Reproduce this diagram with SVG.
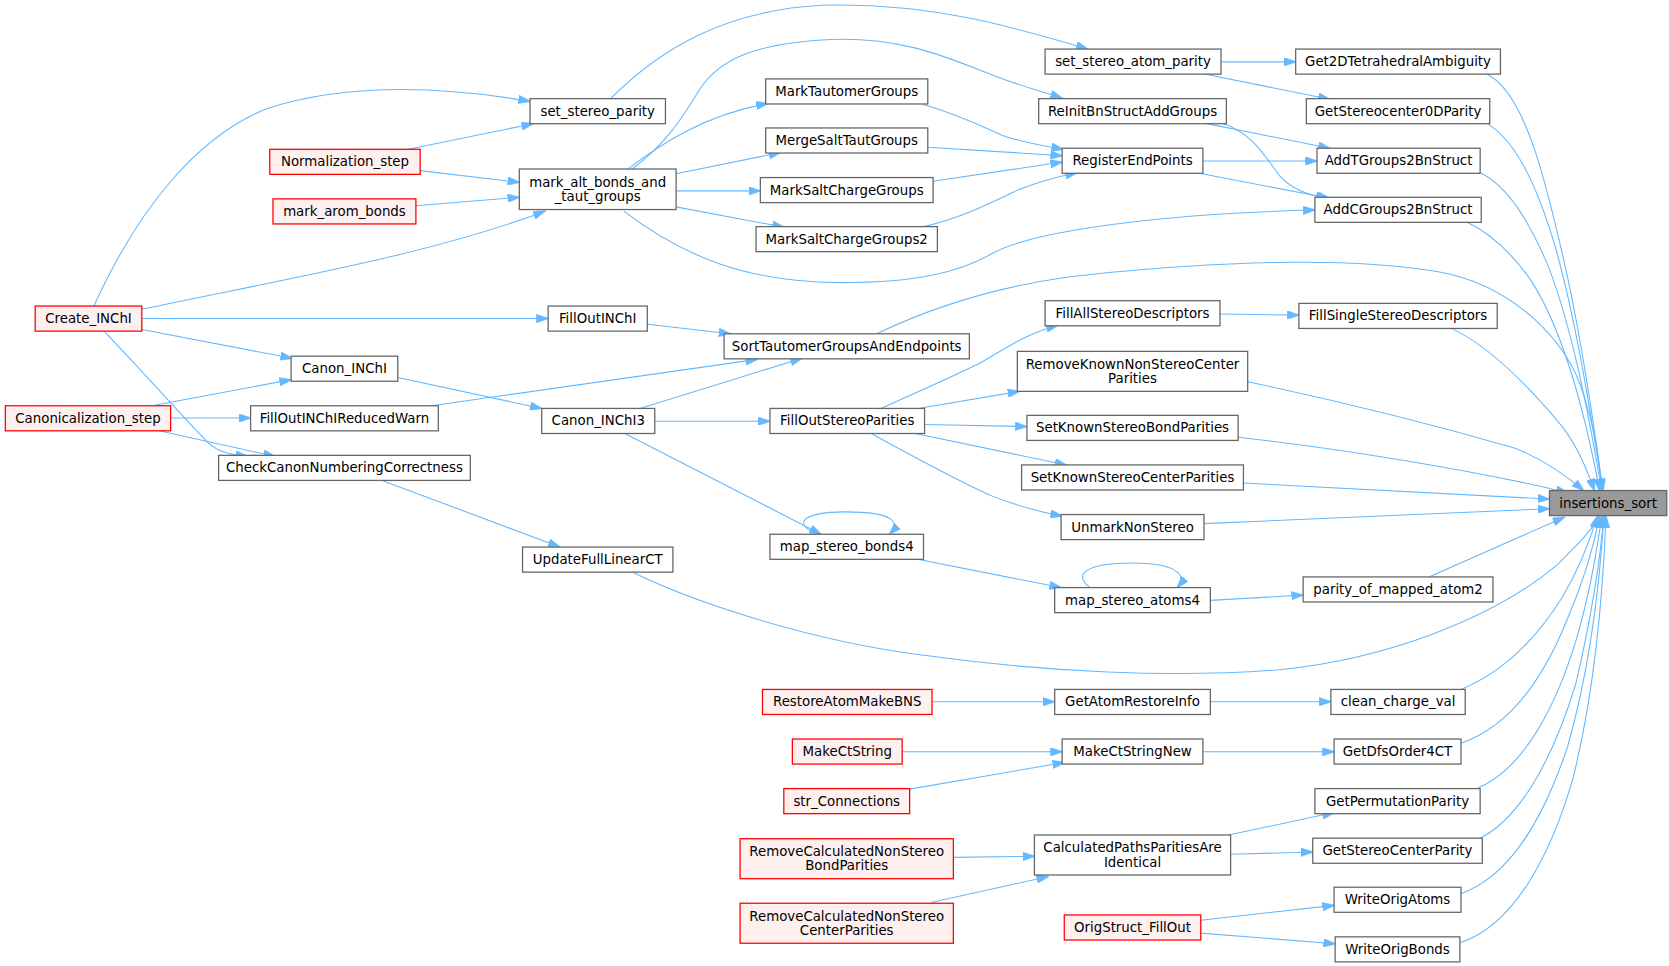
<svg xmlns="http://www.w3.org/2000/svg" width="1669" height="966" viewBox="0 0 1669 966">
<style>
.n rect{fill:#ffffff;stroke:#666666;stroke-width:1.2}
.r rect{fill:#fff0f0;stroke:#ff0000;stroke-width:1.2}
.g rect{fill:#999999;stroke:#666666;stroke-width:1.2}
text{font-family:"DejaVu Sans","Liberation Sans",sans-serif;font-size:12.5px;fill:#000000;text-anchor:middle}
.e path{fill:none;stroke:#63b8ff;stroke-width:1;marker-end:url(#ah)}
</style>
<defs>
<marker id="ah" viewBox="0 0 12 8" refX="11" refY="4" markerWidth="12" markerHeight="8" markerUnits="userSpaceOnUse" orient="auto">
<path d="M0,0 L12,4 L0,8 z" fill="#63b8ff" stroke="#63b8ff" stroke-width="0.5"/>
</marker>
</defs>
<rect x="0" y="0" width="1669" height="966" fill="#ffffff"/>
<g transform="scale(1.0664)">
<g id="connectors" class="e">
<path d="M88,287 C130,195 185,128 250,102 C330,76 420,82 497,95"/>
<path d="M383,140 L500,116"/>
<path d="M394,160 L487,171"/>
<path d="M390,193 L487,185"/>
<path d="M133,290 C250,265 400,240 511,198"/>
<path d="M133,298.7 L514,298.7"/>
<path d="M133,309 L274,336"/>
<path d="M98,311 C140,355 175,395 195,415 C205,424 215,426 232,428"/>
<path d="M145,380 L273,356"/>
<path d="M160,392 L235,392"/>
<path d="M145,403 L258,428"/>
<path d="M373,354 L508,383"/>
<path d="M408,380 L710,337"/>
<path d="M357,450 L525,513"/>
<path d="M600,383 L752,336"/>
<path d="M614,395 L722,395"/>
<path d="M585,406 L770,501"/>
<path d="M607,304 L685,313"/>
<path d="M573,92 C620,45 680,10 770,5 C870,2 950,25 1020,46"/>
<path d="M592,159 C625,135 640,110 656,84 C675,55 710,40 780,37 C850,35 890,55 930,70 C955,80 975,85 996,92"/>
<path d="M588,159 C620,135 660,108 720,97"/>
<path d="M634,163 L732,143"/>
<path d="M634,179 L713,179"/>
<path d="M634,194 L735,213"/>
<path d="M585,198 C640,240 700,265 790,265 C860,265 900,255 930,238 C970,215 1100,200 1233,197"/>
<path d="M866,98 C900,108 920,118 940,127 C960,134 975,136 997,140"/>
<path d="M870,138 L996,146"/>
<path d="M875,170 L996,152"/>
<path d="M864,213 C900,205 930,190 955,178 C975,170 990,166 1010,162"/>
<path d="M822,313 C870,290 930,270 1000,260 C1100,248 1250,238 1350,255 C1420,268 1470,320 1485,370 C1495,400 1500,430 1502,460"/>
<path d="M1145,58 L1215,58"/>
<path d="M1127,69 L1247,93"/>
<path d="M1127,115 L1247,139"/>
<path d="M1145,115 C1175,125 1185,145 1200,165 C1212,178 1225,182 1245,186"/>
<path d="M1128,151 L1235,151"/>
<path d="M1127,163 L1247,186"/>
<path d="M1393,69 C1430,85 1450,170 1470,260 C1485,330 1495,400 1503,460"/>
<path d="M1393,115 C1420,130 1440,170 1458,230 C1478,300 1492,390 1503,460"/>
<path d="M1388,162 C1415,175 1435,210 1452,250 C1475,310 1490,390 1502,460"/>
<path d="M1375,208 C1400,220 1420,240 1437,265 C1465,310 1485,380 1500,460"/>
<path d="M1359,307 C1400,325 1440,370 1465,400 C1480,420 1488,440 1495,460"/>
<path d="M1170,358 C1250,375 1350,400 1420,420 C1450,432 1470,447 1485,460"/>
<path d="M1161,410 C1250,420 1380,440 1470,462"/>
<path d="M1166,453 L1453,468"/>
<path d="M1129,491 L1453,477"/>
<path d="M1340,541 L1467,485"/>
<path d="M592,536 C640,560 750,600 870,615 C980,630 1100,636 1200,628 C1300,618 1400,580 1460,530 C1480,510 1495,495 1500,483"/>
<path d="M1371,646 C1410,630 1440,600 1465,560 C1480,535 1490,510 1498,484"/>
<path d="M1370,697 C1420,680 1450,630 1470,580 C1485,545 1495,510 1500,484"/>
<path d="M1386,739 C1430,720 1460,660 1478,600 C1490,560 1497,520 1502,484"/>
<path d="M1388,786 C1430,765 1460,700 1478,640 C1492,580 1500,530 1504,484"/>
<path d="M1370,838 C1420,820 1450,760 1470,700 C1490,630 1500,550 1504,484"/>
<path d="M1369,884 C1420,868 1455,800 1475,730 C1495,650 1503,560 1506,484"/>
<path d="M826,383 C860,368 900,350 920,340 C945,325 965,312 992,305"/>
<path d="M861,383 L956,367"/>
<path d="M867,398 L963,400"/>
<path d="M856,406 L1000,436"/>
<path d="M816,406 C860,430 900,452 930,465 C955,475 975,480 996,484"/>
<path d="M1144,294.5 L1218,295.5"/>
<path d="M770,501 C745,495 745,480 794,480 C838,480 845,490 834,501"/>
<path d="M858,524 L995,551"/>
<path d="M1022,551 C1005,538 1020,528 1062,528 C1100,528 1115,538 1104,551"/>
<path d="M1135,563 L1222,558"/>
<path d="M874,658 L989,658"/>
<path d="M1135,658 L1248,658"/>
<path d="M846,705 L996,705"/>
<path d="M853,740 L998,715"/>
<path d="M1128,705 L1251,705"/>
<path d="M894,804 L970,803"/>
<path d="M874,846 L983,822"/>
<path d="M1152,783 L1251,762"/>
<path d="M1154,801 L1231,799"/>
<path d="M1126,863 L1251,849"/>
<path d="M1126,875 L1252,885"/>
</g>
<g id="node-Create_INChI" class="r"><rect x="33" y="287" width="100" height="23.5"/><text x="83" y="303">Create_INChI</text></g>
<g id="node-Canonicalization_step" class="r"><rect x="5" y="380.5" width="155" height="23.5"/><text x="82.5" y="396.5">Canonicalization_step</text></g>
<g id="node-Normalization_step" class="r"><rect x="253" y="140" width="141" height="23.5"/><text x="323.5" y="156">Normalization_step</text></g>
<g id="node-mark_arom_bonds" class="r"><rect x="256" y="186.5" width="134" height="23.5"/><text x="323" y="202.5">mark_arom_bonds</text></g>
<g id="node-Canon_INChI" class="n"><rect x="273" y="334" width="100" height="23.5"/><text x="323" y="350">Canon_INChI</text></g>
<g id="node-FillOutINChIReducedWarn" class="n"><rect x="235" y="380.5" width="176" height="23.5"/><text x="323" y="396.5">FillOutINChIReducedWarn</text></g>
<g id="node-CheckCanonNumberingCorrectness" class="n"><rect x="205" y="427" width="236" height="23.5"/><text x="323" y="443">CheckCanonNumberingCorrectness</text></g>
<g id="node-set_stereo_parity" class="n"><rect x="497" y="92.5" width="127" height="23.5"/><text x="560.5" y="108.5">set_stereo_parity</text></g>
<g id="node-mark_alt_bonds_and_taut_groups" class="n"><rect x="487" y="158.5" width="147" height="38"/><text x="560.5" y="175">mark_alt_bonds_and</text><text x="560.5" y="188.5">_taut_groups</text></g>
<g id="node-FillOutINChI" class="n"><rect x="514" y="287" width="93" height="23.5"/><text x="560.5" y="303">FillOutINChI</text></g>
<g id="node-Canon_INChI3" class="n"><rect x="508" y="383" width="106" height="23.5"/><text x="561" y="399">Canon_INChI3</text></g>
<g id="node-UpdateFullLinearCT" class="n"><rect x="490" y="513" width="141" height="23.5"/><text x="560.5" y="529">UpdateFullLinearCT</text></g>
<g id="node-MarkTautomerGroups" class="n"><rect x="718" y="74" width="152" height="23.5"/><text x="794" y="90">MarkTautomerGroups</text></g>
<g id="node-MergeSaltTautGroups" class="n"><rect x="718" y="120" width="152" height="23.5"/><text x="794" y="136">MergeSaltTautGroups</text></g>
<g id="node-MarkSaltChargeGroups" class="n"><rect x="713" y="166.5" width="162" height="23.5"/><text x="794" y="182.5">MarkSaltChargeGroups</text></g>
<g id="node-MarkSaltChargeGroups2" class="n"><rect x="709" y="212.5" width="170" height="23.5"/><text x="794" y="228.5">MarkSaltChargeGroups2</text></g>
<g id="node-SortTautomerGroupsAndEndpoints" class="n"><rect x="679" y="313" width="230" height="23.5"/><text x="794" y="329">SortTautomerGroupsAndEndpoints</text></g>
<g id="node-FillOutStereoParities" class="n"><rect x="722" y="383" width="145" height="23.5"/><text x="794.5" y="399">FillOutStereoParities</text></g>
<g id="node-map_stereo_bonds4" class="n"><rect x="722" y="501" width="144" height="23.5"/><text x="794" y="517">map_stereo_bonds4</text></g>
<g id="node-RestoreAtomMakeBNS" class="r"><rect x="715" y="646.5" width="159" height="23.5"/><text x="794.5" y="662.5">RestoreAtomMakeBNS</text></g>
<g id="node-MakeCtString" class="r"><rect x="743" y="693" width="103" height="23.5"/><text x="794.5" y="709">MakeCtString</text></g>
<g id="node-str_Connections" class="r"><rect x="735" y="739.5" width="118" height="23.5"/><text x="794" y="755.5">str_Connections</text></g>
<g id="node-RemoveCalculatedNonStereoBondParities" class="r"><rect x="694" y="786.5" width="200" height="37.5"/><text x="794" y="802.75">RemoveCalculatedNonStereo</text><text x="794" y="816.25">BondParities</text></g>
<g id="node-RemoveCalculatedNonStereoCenterParities" class="r"><rect x="694" y="847" width="200" height="37.5"/><text x="794" y="863.25">RemoveCalculatedNonStereo</text><text x="794" y="876.75">CenterParities</text></g>
<g id="node-set_stereo_atom_parity" class="n"><rect x="980" y="46" width="165" height="23.5"/><text x="1062.5" y="62">set_stereo_atom_parity</text></g>
<g id="node-ReInitBnStructAddGroups" class="n"><rect x="974" y="92.5" width="176" height="23.5"/><text x="1062" y="108.5">ReInitBnStructAddGroups</text></g>
<g id="node-RegisterEndPoints" class="n"><rect x="996" y="139" width="132" height="23.5"/><text x="1062" y="155">RegisterEndPoints</text></g>
<g id="node-FillAllStereoDescriptors" class="n"><rect x="980" y="282" width="164" height="23.5"/><text x="1062" y="298">FillAllStereoDescriptors</text></g>
<g id="node-RemoveKnownNonStereoCenterParities" class="n"><rect x="954" y="329.5" width="216" height="37.5"/><text x="1062" y="345.75">RemoveKnownNonStereoCenter</text><text x="1062" y="359.25">Parities</text></g>
<g id="node-SetKnownStereoBondParities" class="n"><rect x="963" y="389.5" width="198" height="23.5"/><text x="1062" y="405.5">SetKnownStereoBondParities</text></g>
<g id="node-SetKnownStereoCenterParities" class="n"><rect x="958" y="436" width="208" height="23.5"/><text x="1062" y="452">SetKnownStereoCenterParities</text></g>
<g id="node-UnmarkNonStereo" class="n"><rect x="995" y="482.5" width="134" height="23.5"/><text x="1062" y="498.5">UnmarkNonStereo</text></g>
<g id="node-map_stereo_atoms4" class="n"><rect x="989" y="551" width="146" height="23.5"/><text x="1062" y="567">map_stereo_atoms4</text></g>
<g id="node-GetAtomRestoreInfo" class="n"><rect x="989" y="646.5" width="146" height="23.5"/><text x="1062" y="662.5">GetAtomRestoreInfo</text></g>
<g id="node-MakeCtStringNew" class="n"><rect x="996" y="693" width="132" height="23.5"/><text x="1062" y="709">MakeCtStringNew</text></g>
<g id="node-CalculatedPathsParitiesAreIdentical" class="n"><rect x="970" y="783" width="184" height="37.5"/><text x="1062" y="799.25">CalculatedPathsParitiesAre</text><text x="1062" y="812.75">Identical</text></g>
<g id="node-OrigStruct_FillOut" class="r"><rect x="998" y="858" width="128" height="23.5"/><text x="1062" y="874">OrigStruct_FillOut</text></g>
<g id="node-Get2DTetrahedralAmbiguity" class="n"><rect x="1215" y="46" width="192" height="23.5"/><text x="1311" y="62">Get2DTetrahedralAmbiguity</text></g>
<g id="node-GetStereocenter0DParity" class="n"><rect x="1225" y="92.5" width="172" height="23.5"/><text x="1311" y="108.5">GetStereocenter0DParity</text></g>
<g id="node-AddTGroups2BnStruct" class="n"><rect x="1235" y="139" width="153" height="23.5"/><text x="1311.5" y="155">AddTGroups2BnStruct</text></g>
<g id="node-AddCGroups2BnStruct" class="n"><rect x="1233" y="185" width="156" height="23.5"/><text x="1311" y="201">AddCGroups2BnStruct</text></g>
<g id="node-FillSingleStereoDescriptors" class="n"><rect x="1218" y="284.5" width="186" height="23.5"/><text x="1311" y="300.5">FillSingleStereoDescriptors</text></g>
<g id="node-parity_of_mapped_atom2" class="n"><rect x="1222" y="541" width="178" height="23.5"/><text x="1311" y="557">parity_of_mapped_atom2</text></g>
<g id="node-clean_charge_val" class="n"><rect x="1248" y="646.5" width="126" height="23.5"/><text x="1311" y="662.5">clean_charge_val</text></g>
<g id="node-GetDfsOrder4CT" class="n"><rect x="1251" y="693" width="119" height="23.5"/><text x="1310.5" y="709">GetDfsOrder4CT</text></g>
<g id="node-GetPermutationParity" class="n"><rect x="1233" y="739.5" width="155" height="23.5"/><text x="1310.5" y="755.5">GetPermutationParity</text></g>
<g id="node-GetStereoCenterParity" class="n"><rect x="1231" y="786" width="159" height="23.5"/><text x="1310.5" y="802">GetStereoCenterParity</text></g>
<g id="node-WriteOrigAtoms" class="n"><rect x="1251" y="832" width="119" height="23.5"/><text x="1310.5" y="848">WriteOrigAtoms</text></g>
<g id="node-WriteOrigBonds" class="n"><rect x="1252" y="878.5" width="117" height="23.5"/><text x="1310.5" y="894.5">WriteOrigBonds</text></g>
<g id="node-insertions_sort" class="g"><rect x="1453" y="460" width="110" height="23.5"/><text x="1508" y="476">insertions_sort</text></g>
</g>
</svg>
